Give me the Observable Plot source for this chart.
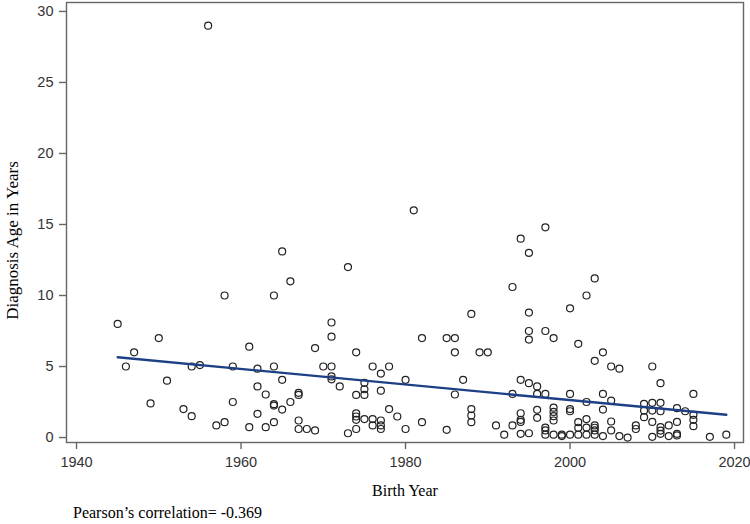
<!DOCTYPE html>
<html>
<head>
<meta charset="utf-8">
<script src="https://cdn.jsdelivr.net/npm/d3@7"></script>
<script src="https://cdn.jsdelivr.net/npm/@observablehq/plot@0.6"></script>
<style>
  html, body { margin: 0; padding: 0; background: #fff; }
  svg { display: block; }
  #caption { font-family: "Liberation Serif", "Times New Roman", serif; font-size: 16px; color: #000;
             padding-left: 73px; padding-top: 3px; line-height: 20px; height: 21px; }
</style>
</head>
<body>
<div id="chart"></div>
<div id="caption"></div>
<script>
// Birth year and diagnosis age of each patient
const years = [
  1945, 1946, 1947, 1949, 1950, 1951, 1953, 1954, 1954, 1955, 1956, 1957, 1958, 1958, 1959, 1959,
  1961, 1961, 1962, 1962, 1962, 1963, 1963, 1964, 1964, 1964, 1964, 1964, 1965, 1965, 1965, 1966, 1966,
  1967, 1967, 1967, 1967, 1968, 1969, 1969, 1970, 1971, 1971, 1971, 1971, 1971, 1972, 1973, 1973,
  1974, 1974, 1974, 1974, 1974, 1974, 1975, 1975, 1975, 1975, 1976, 1976, 1976,
  1977, 1977, 1977, 1977, 1977, 1978, 1978, 1979, 1980, 1980, 1981, 1982, 1982, 1985, 1985,
  1986, 1986, 1986, 1987, 1988, 1988, 1988, 1988, 1989, 1990, 1991, 1992, 1993, 1993, 1993,
  1994, 1994, 1994, 1994, 1994, 1994, 1995, 1995, 1995, 1995, 1995, 1995, 1996, 1996, 1996, 1996,
  1997, 1997, 1997, 1997, 1997, 1997, 1998, 1998, 1998, 1998, 1998, 1998, 1999, 1999,
  2000, 2000, 2000, 2000, 2000, 2001, 2001, 2001, 2001, 2002, 2002, 2002, 2002, 2002,
  2003, 2003, 2003, 2003, 2003, 2003, 2004, 2004, 2004, 2004, 2005, 2005, 2005, 2005, 2006, 2006,
  2007, 2008, 2008, 2009, 2009, 2009, 2010, 2010, 2010, 2010, 2010, 2011, 2011, 2011, 2011, 2011, 2011,
  2012, 2012, 2013, 2013, 2013, 2013, 2014, 2015, 2015, 2015, 2015, 2017, 2019
];
const ages = [
  8.0, 5.0, 6.0, 2.4, 7.0, 4.0, 2.0, 5.0, 1.5, 5.1, 29.0, 0.85, 10.0, 1.08, 5.0, 2.5,
  6.4, 0.73, 4.85, 3.6, 1.67, 3.03, 0.73, 10.0, 5.0, 2.35, 2.25, 1.08, 13.1, 4.06, 1.97, 11.0, 2.5,
  3.15, 3.0, 1.2, 0.6, 0.6, 6.3, 0.5, 5.0, 8.1, 7.1, 5.0, 4.3, 4.1, 3.6, 12.0, 0.3,
  6.0, 3.0, 1.7, 1.48, 1.25, 0.6, 3.85, 3.4, 3.0, 1.3, 5.0, 1.3, 0.85,
  4.5, 3.3, 1.2, 0.85, 0.6, 5.0, 2.0, 1.48, 4.06, 0.6, 16.0, 7.0, 1.08, 7.0, 0.54,
  7.0, 6.0, 3.03, 4.06, 8.7, 2.0, 1.55, 1.08, 6.0, 6.0, 0.85, 0.2, 10.6, 3.07, 0.85,
  14.0, 4.06, 1.71, 1.25, 1.1, 0.26, 13.0, 8.8, 7.5, 6.9, 3.83, 0.3, 3.6, 3.07, 1.95, 1.39,
  14.8, 7.5, 3.07, 0.7, 0.5, 0.2, 7.0, 2.1, 1.8, 1.5, 1.2, 0.2, 0.2, 0.1,
  9.1, 3.07, 2.0, 1.85, 0.2, 6.6, 1.08, 0.69, 0.2, 10.0, 2.5, 1.3, 0.7, 0.2,
  11.2, 5.4, 0.85, 0.69, 0.5, 0.2, 6.0, 3.07, 1.97, 0.1, 5.0, 2.6, 1.13, 0.5, 4.85, 0.1,
  0.0, 0.85, 0.6, 2.37, 1.9, 1.43, 5.0, 2.44, 1.9, 1.1, 0.05, 3.83, 2.44, 1.85, 0.73, 0.49, 0.26,
  0.85, 0.1, 2.07, 1.1, 0.26, 0.15, 1.85, 3.07, 1.6, 1.25, 0.8, 0.05, 0.2
];
// Fitted regression line endpoints
const fitYears = [1945, 2019];
const fitAges = [5.65, 1.6];
// Axis ticks and labels
const xTicks = [1940, 1960, 1980, 2000, 2020];
const yTicks = [0, 5, 10, 15, 20, 25, 30];
const xLabel = "Birth Year";
const yLabel = "Diagnosis Age in Years";
const captionText = "Pearson’s correlation= -0.369";

const points = years.map((y, i) => ({year: y, age: ages[i]}));
const fit = fitYears.map((y, i) => ({year: y, age: fitAges[i]}));

const serif = "Liberation Serif, Times New Roman, serif";
const sans = "Liberation Sans, Arial, sans-serif";

const chart = Plot.plot({
  width: 750,
  height: 500,
  marginLeft: 66,
  marginRight: 7,
  marginTop: 2,
  marginBottom: 58,
  style: {fontFamily: sans, fontSize: "14px", color: "#333", background: "#fff"},
  x: {domain: [1938.78, 2021.09]},
  y: {domain: [-0.35, 30.63]},
  marks: [
    Plot.frame({stroke: "#666", strokeWidth: 1.4}),
    Plot.axisX({ticks: xTicks, tickFormat: d => String(d), tickSize: 7, tickPadding: 7,
                stroke: "#666", strokeWidth: 1.4, fill: "#333", fontSize: 14.5, label: null}),
    Plot.axisY({ticks: yTicks, tickSize: 7, tickPadding: 6,
                stroke: "#666", strokeWidth: 1.4, fill: "#333", fontSize: 14.5, label: null}),
    Plot.dot(points, {x: "year", y: "age", r: 3.5, stroke: "#222", strokeWidth: 1.2, fill: "none"}),
    Plot.line(fit, {x: "year", y: "age", stroke: "#1d3f85", strokeWidth: 2.4}),
    Plot.text([xLabel], {frameAnchor: "bottom", dy: 53, text: d => d, fontFamily: serif, fontSize: 16, fill: "#000"}),
    Plot.text([yLabel], {frameAnchor: "left", textAnchor: "middle", dx: -54, dy: 18, rotate: -90, text: d => d,
                         fontFamily: serif, fontSize: 17, fill: "#000"})
  ]
});
document.getElementById("chart").appendChild(chart);
document.getElementById("caption").textContent = captionText;
</script>
</body>
</html>
